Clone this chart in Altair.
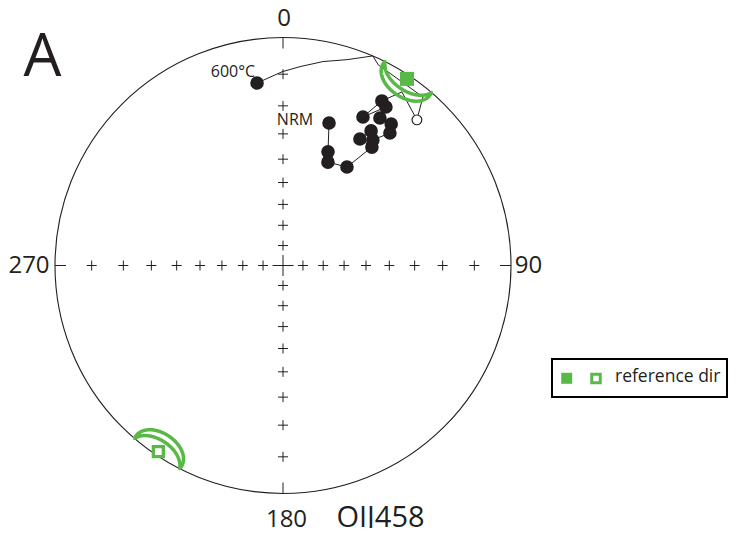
import numpy as np
import pandas as pd
import altair as alt

# ---------------- data ----------------
# demagnetisation path: declination / inclination (deg); negative inc = upper hemisphere
path_dec = [17.9, 21.6, 23.5, 33.0, 36.9, 31.3, 33.2, 35.6, 38.9, 37.4, 33.3, 33.0, 28.3, 31.0,
            34.4, 42.6, 39.7, 25.4, 23.2, 17.3, 11.1, 4.9, 359.7, 351.9]
path_inc = [23.4, 33.6, 37.4, 35.5, 24.0, 24.0, 19.6, 21.8, 16.5, 14.0, 14.5, 10.7, 17.0, 9.8,
            4.6, -8.1, -2.3, -1.5, 0.0, 3.2, 5.3, 7.6, 9.3, 12.1]
# which path vertices are plotted as measurement symbols
path_dot = [True] * 14 + [False, True, False, False, False, False, False, False, False, True]

# reference direction and its antipode, with confidence half-widths (deg)
ref_dec = [33.6, 213.8]
ref_inc = [1.0, -1.0]
ref_ddec = [7.2, 7.0]
ref_dinc = [5.0, 5.0]

grid_dirs = [0, 90, 180, 270]
grid_incs = [10, 20, 30, 40, 50, 60, 70, 80]

dir_labels = ["0", "90", "180", "270"]
panel_label = "A"
sample_label = "OIJ458"
legend_label = "reference dir"

# ---------------- styling / layout ----------------
W, H = 720, 520
R = 228.0
CX, CY = 275.0, 257.5
INK = "#231f20"
GREEN = "#58b947"
FONT = "Open Sans"
CROSS = "M-1,0L1,0M0,-1L0,1"


def proj(dec, inc):
    dec = np.radians(np.asarray(dec, dtype=float))
    inc = np.asarray(inc, dtype=float)
    r = np.tan(np.radians(90.0 - np.abs(inc)) / 2.0)
    return r * np.sin(dec), r * np.cos(dec)


xs = alt.Scale(domain=[-CX / R, (W - CX) / R], nice=False, zero=False)
ys = alt.Scale(domain=[-(H - CY) / R, CY / R], nice=False, zero=False)
X = alt.X("x:Q", scale=xs, axis=None)
Y = alt.Y("y:Q", scale=ys, axis=None)

# path
px, py = proj(path_dec, path_inc)
is_dot = np.array(path_dot)
is_up = np.array(path_inc) < 0
path_df = pd.DataFrame({"x": px, "y": py, "seq": range(len(px))})
dots_low = pd.DataFrame({"x": px[is_dot & ~is_up], "y": py[is_dot & ~is_up]})
dots_up = pd.DataFrame({"x": px[is_dot & is_up], "y": py[is_dot & is_up]})

# grid crosses
gd, gi = np.meshgrid(grid_dirs, grid_incs)
cx_, cy_ = proj(gd.ravel(), gi.ravel())
cross_df = pd.DataFrame({"x": cx_, "y": cy_})
center_df = pd.DataFrame({"x": [0.0], "y": [0.0]})

# edge ticks
ex, ey = proj(grid_dirs, [0] * 4)
k = 1 - 11.0 / R
edge_df = pd.DataFrame({"x": ex, "y": ey, "x2": ex * k, "y2": ey * k})

# confidence ovals
rows = []
t = np.linspace(0, 2 * np.pi, 241)
for i in range(len(ref_dec)):
    d = ref_dec[i] + ref_ddec[i] * np.cos(t)
    inc = ref_inc[i] + ref_dinc[i] * np.sin(t)
    ox, oy = proj(d, inc)
    for j in range(len(t)):
        rows.append({"ref": i, "t": j, "x": ox[j], "y": oy[j]})
oval_df = pd.DataFrame(rows)

rx, ry = proj(ref_dec, ref_inc)
r_up = np.array(ref_inc) < 0
ref_low_df = pd.DataFrame({"x": rx[~r_up], "y": ry[~r_up]})
ref_up_df = pd.DataFrame({"x": rx[r_up], "y": ry[r_up]})

prim = alt.Chart(center_df).mark_point(shape="circle", size=(2 * R) ** 2, filled=False,
                                       stroke=INK, strokeWidth=1.1, opacity=1).encode(x=X, y=Y)
edges = alt.Chart(edge_df).mark_rule(color=INK, strokeWidth=1).encode(
    x=X, y=Y, x2="x2:Q", y2="y2:Q")
crosses = alt.Chart(cross_df).mark_point(shape=CROSS, size=100, filled=False, stroke=INK,
                                         strokeWidth=1, opacity=1).encode(x=X, y=Y)
center = alt.Chart(center_df).mark_point(shape=CROSS, size=440, filled=False, stroke=INK,
                                         strokeWidth=1, opacity=1).encode(x=X, y=Y)
path = alt.Chart(path_df).mark_line(color=INK, strokeWidth=1).encode(x=X, y=Y, order="seq:Q")
low = alt.Chart(dots_low).mark_circle(size=185, color=INK, opacity=1).encode(x=X, y=Y)
up = alt.Chart(dots_up).mark_circle(size=95, fill="white", stroke=INK, strokeWidth=1.2,
                                    opacity=1).encode(x=X, y=Y)
ovals = alt.Chart(oval_df).mark_line(color=GREEN, strokeWidth=3.5, strokeCap="round",
                                     strokeJoin="round").encode(
    x=X, y=Y, order="t:Q", detail="ref:N")
ref_low = alt.Chart(ref_low_df).mark_square(size=196, color=GREEN, opacity=1).encode(x=X, y=Y)
ref_up = alt.Chart(ref_up_df).mark_square(size=100, fill="white", stroke=GREEN,
                                          strokeWidth=3.3, opacity=1).encode(x=X, y=Y)


def label(txt, x, y, size, align="center"):
    return alt.Chart(pd.DataFrame({"t": [txt]})).mark_text(
        font=FONT, fontSize=size, color=INK, align=align, baseline="alphabetic").encode(
        text="t:N", x=alt.value(x), y=alt.value(y))


texts = [
    label(dir_labels[0], 276, 18, 24),
    label(dir_labels[1], 520.5, 265, 24),
    label(dir_labels[2], 278.5, 519, 24),
    label(dir_labels[3], 21, 265, 24),
    label(panel_label, 34.5, 68, 60),
    label(sample_label, 372.5, 519, 29),
    label("600°C", 225, 69, 16),
    label("NRM", 287, 117, 16),
]

one = pd.DataFrame({"a": [0]})
leg_box = alt.Chart(one).mark_rect(fill="white", stroke="black", strokeWidth=2).encode(
    x=alt.value(544), x2=alt.value(719), y=alt.value(351), y2=alt.value(389))
leg_f = alt.Chart(one).mark_square(size=121, color=GREEN, opacity=1).encode(
    x=alt.value(558.7), y=alt.value(370.3))
leg_o = alt.Chart(one).mark_square(size=72, fill="white", stroke=GREEN, strokeWidth=3,
                                   opacity=1).encode(x=alt.value(588), y=alt.value(370.5))
leg_t = label(legend_label, 607, 374, 17.5, align="left")

chart = alt.layer(prim, edges, crosses, center, path, low, up, ovals, ref_low, ref_up,
                  *texts, leg_box, leg_f, leg_o, leg_t).properties(
    width=W, height=H, padding=0, autosize="none", background="white"
).configure_view(stroke=None)

chart.save("out.html", embed_options={"renderer": "svg", "actions": False})
